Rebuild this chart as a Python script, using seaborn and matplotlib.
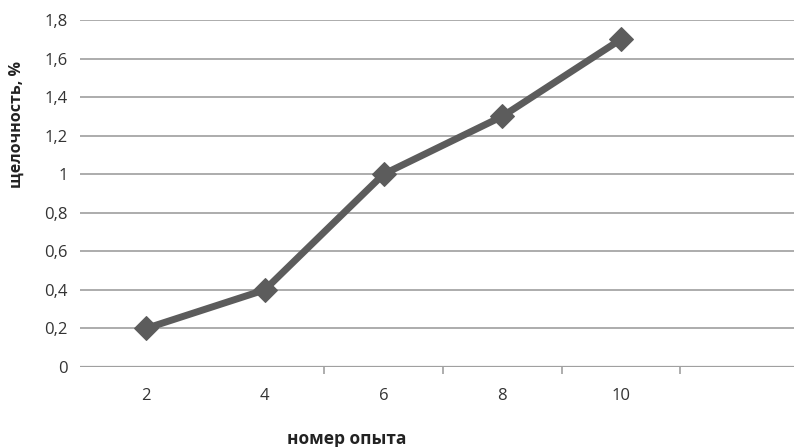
import pandas as pd
import numpy as np
import matplotlib.pyplot as plt
import seaborn as sns

experiments = ['2', '4', '6', '8', '10']
alkalinity = [0.2, 0.4, 1.0, 1.3, 1.7]
y_ticks = [0, 0.2, 0.4, 0.6, 0.8, 1.0, 1.2, 1.4, 1.6, 1.8]

df = pd.DataFrame({'pos': np.arange(len(experiments)), 'val': alkalinity})

sns.set_theme(style="white")
plt.rcParams['font.family'] = ['Open Sans', 'DejaVu Sans']

fig = plt.figure(figsize=(7.94, 4.47), dpi=100)
ax = fig.add_axes([80 / 794, 80 / 447, 714 / 794, 347 / 447])

for t in y_ticks[1:]:
    ax.axhline(t, color='#a6a6a6', lw=1.3, zorder=0)
ax.axhline(0, color='#a0a0a0', lw=1.6, zorder=0)

sns.lineplot(data=df, x='pos', y='val', ax=ax, color='#5c5c5c', lw=5,
             marker='D', markersize=12, markeredgecolor='#5c5c5c')

ax.set_xlim(-0.556, 5.457)
ax.set_ylim(0, 1.8)
ax.set_xticks(df['pos'])
ax.set_xticklabels(experiments)
ax.set_xticks([1.5, 2.5, 3.5, 4.5], minor=True)
ax.tick_params(axis='x', which='major', length=0, pad=15, labelsize=12, colors='#333333')
ax.tick_params(axis='x', which='minor', length=5, width=1.2, color='#a0a0a0', bottom=True)
ax.set_yticks(y_ticks)
ax.set_yticklabels([('%g' % v).replace('.', ',') for v in y_ticks])
ax.tick_params(axis='y', length=0, pad=9, labelsize=12, colors='#333333')

for s in ax.spines.values():
    s.set_visible(False)

ax.set_xlabel('')
ax.set_ylabel('')
fig.text(347 / 794, 1 - 439 / 447, 'номер опыта', ha='center', va='center',
         fontsize=12.5, fontweight='bold', color='#222222')
fig.text(17 / 794, 1 - 124 / 447, 'щелочность, %', ha='center', va='center',
         rotation=90, fontsize=11.5, fontweight='bold', color='#222222')

fig.savefig('out.png', dpi=100)
